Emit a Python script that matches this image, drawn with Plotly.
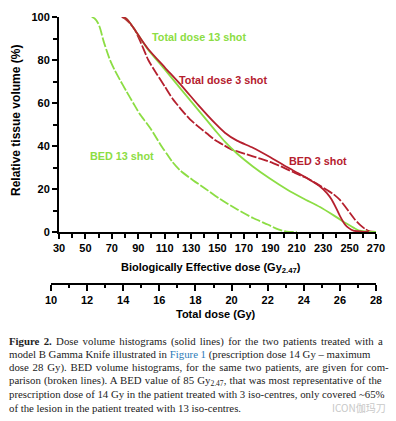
import plotly.graph_objects as go

# ---- data ----
td13_x = [14.0, 14.2, 14.4, 14.65, 15.0, 15.39, 16.31, 17.24, 18.16, 19.08, 19.63, 20.3, 21.18, 22.1, 23.07, 24.0, 24.9, 25.7, 26.39, 26.8, 27.1, 27.6, 28.0]
td13_y = [100, 99, 97, 94, 89.5, 84.7, 75.5, 66, 56.7, 47.4, 42, 36.5, 30.5, 25, 19.8, 15.5, 11.6, 7.5, 3.8, 1.8, 0.6, 0.1, 0]

td3_x = [14.0, 14.2, 14.4, 14.65, 15.0, 15.39, 16.31, 17.24, 18.16, 19.08, 19.63, 20.3, 21.18, 22.1, 23.07, 23.7, 24.34, 24.85, 25.28, 25.55, 25.8, 26.0, 26.28, 26.5, 26.75, 27.2, 27.6]
td3_y = [100, 99, 97, 94, 89.5, 85, 76.5, 68, 59, 50.6, 46.2, 42.5, 39.2, 35, 30.2, 27.3, 24.2, 21.5, 18.1, 15, 11, 7.5, 3.5, 1.8, 0.6, 0.2, 0]

bed3_x = [77.5, 80, 83, 87.5, 92, 97.6, 104, 110.2, 116, 122.9, 129, 135.5, 142, 148.1, 155, 161.7, 169, 176.8, 183, 189.7, 198, 207.1, 212, 217.7, 225, 232.9, 238, 242.7, 246.5, 250.3, 254, 257.9, 262, 265.4, 270]
bed3_y = [100, 99.2, 97.5, 94, 88, 80, 73.5, 67.6, 62, 56.7, 52.5, 49, 45.8, 42.8, 40.3, 38.1, 36.7, 35.2, 34, 32.6, 30.5, 27.9, 26.5, 25.1, 22.5, 19.5, 17.5, 14.9, 12, 8.8, 5.8, 3.3, 1.3, 0.3, 0]

bed13_x = [54.8, 57, 59.7, 61.5, 63.5, 66, 68.6, 72, 76.2, 81, 86.2, 91, 96.4, 100, 104, 108, 112, 116, 122, 131.7, 140, 151.9, 165, 176.9, 188, 196, 202.4, 210]
bed13_y = [100, 99.3, 97, 94, 89.3, 84.5, 80, 75.5, 70.7, 65.5, 60, 55, 50.6, 47.5, 43.5, 39.5, 36, 32.5, 28.5, 24, 20.5, 15.3, 10.5, 6.5, 3.5, 1.2, 0.2, 0]

bed_ticks = [30, 50, 70, 90, 110, 130, 150, 170, 190, 210, 230, 250, 270]
td_ticks = [10, 12, 14, 16, 18, 20, 22, 24, 26, 28]
vol_ticks = [0, 20, 40, 60, 80, 100]

caption_lines = [
    "<b>Figure 2.</b> Dose volume histograms (solid lines) for the two patients treated with a",
    "model B Gamma Knife illustrated in <span style='color:#2a7ab8'>Figure 1</span> (prescription dose 14 Gy \u2013 maximum",
    "dose 28 Gy). BED volume histograms, for the same two patients, are given for com-",
    "parison (broken lines). A BED value of 85 Gy<sub>2.47</sub>, that was most representative of the",
    "prescription dose of 14 Gy in the patient treated with 3 iso-centres, only covered ~65%",
    "of the lesion in the patient treated with 13 iso-centres.",
]
caption_word_spacing = [1.6, 0, 1.1, 0.4, 0, 0]

GREEN = "#8CDD44"
RED = "#B5202E"
W, H = 396, 421


def px(x):
    return x / W


def py(y):
    return 1 - y / H


fig = go.Figure()
fig.add_trace(go.Scatter(x=bed13_x, y=bed13_y, xaxis="x", yaxis="y", mode="lines",
                         line=dict(color=GREEN, width=1.8, dash="10px,2px", shape="spline", smoothing=0.6)))
fig.add_trace(go.Scatter(x=bed3_x, y=bed3_y, xaxis="x", yaxis="y", mode="lines",
                         line=dict(color=RED, width=1.8, dash="10px,2px", shape="spline", smoothing=0.6)))
fig.add_trace(go.Scatter(x=td13_x, y=td13_y, xaxis="x2", yaxis="y2", mode="lines",
                         line=dict(color=GREEN, width=1.8, shape="spline", smoothing=0.6)))
fig.add_trace(go.Scatter(x=td3_x, y=td3_y, xaxis="x2", yaxis="y2", mode="lines",
                         line=dict(color=RED, width=1.8, shape="spline", smoothing=0.6)))

tickfont = dict(family="Liberation Sans, Arial", size=11, color="black", weight="bold")
ydom = [py(232), py(17)]

fig.update_layout(
    template="none",
    width=W, height=H, margin=dict(l=0, r=0, t=0, b=0, pad=0, autoexpand=False),
    paper_bgcolor="white", plot_bgcolor="rgba(0,0,0,0)", showlegend=False,
    xaxis=dict(domain=[px(59), px(376)], range=[30, 270], anchor="y", automargin=False,
               tickmode="array", tickvals=bed_ticks, ticktext=[str(t) for t in bed_ticks],
               ticks="outside", ticklen=5, tickwidth=1.5, tickcolor="black",
               minor=dict(dtick=10, tick0=30, ticks="outside", ticklen=4, tickwidth=1.5, tickcolor="black", showgrid=False),
               showline=True, linecolor="black", linewidth=2, showgrid=False, zeroline=False,
               tickfont=tickfont),
    xaxis2=dict(domain=[px(51), px(376)], range=[10, 28], anchor="free", position=py(284), automargin=False,
                tickmode="array", tickvals=td_ticks, ticktext=[str(t) for t in td_ticks],
                ticks="outside", ticklen=6, tickwidth=1.5, tickcolor="black",
                minor=dict(dtick=1, tick0=10, ticks="outside", ticklen=3, tickwidth=1.5, tickcolor="black", showgrid=False),
                showline=True, linecolor="black", linewidth=2, showgrid=False, zeroline=False,
                tickfont=tickfont),
    yaxis=dict(domain=ydom, range=[0, 100], anchor="x", automargin=False,
               tickmode="array", tickvals=vol_ticks, ticktext=[str(t) for t in vol_ticks],
               ticks="outside", ticklen=5, tickwidth=1.5, tickcolor="black",
               minor=dict(dtick=10, tick0=0, ticks="outside", ticklen=4, tickwidth=1.5, tickcolor="black", showgrid=False),
               showline=True, linecolor="black", linewidth=2, showgrid=False, zeroline=False,
               tickfont=tickfont),
    yaxis2=dict(domain=ydom, range=[0, 100], anchor="x2", visible=False, automargin=False,
                showgrid=False, zeroline=False),
)

ann = []
ann.append(dict(x=px(16), y=py(121), text="Relative tissue volume (%)", textangle=-90,
                font=dict(family="Liberation Sans, Arial", size=12, color="black", weight="bold")))
ann.append(dict(x=px(211), y=py(268), text="Biologically Effective dose (Gy<sub>2.47</sub>)",
                font=dict(family="Liberation Sans, Arial", size=11, color="black", weight="bold")))
ann.append(dict(x=px(216), y=py(314), text="Total dose (Gy)",
                font=dict(family="Liberation Sans, Arial", size=11, color="black", weight="bold")))
lab_font = dict(family="Liberation Sans, Arial", size=10.8, weight="bold")
ann.append(dict(x=px(199), y=py(37), text="Total dose 13 shot", font=dict(lab_font, color=GREEN)))
ann.append(dict(x=px(223), y=py(80), text="Total dose 3 shot", font=dict(lab_font, color=RED)))
ann.append(dict(x=px(122), y=py(156), text="BED 13 shot", font=dict(lab_font, color=GREEN)))
ann.append(dict(x=px(318), y=py(161), text="BED 3 shot", font=dict(lab_font, color=RED)))

cap_y = [341, 354.3, 367.7, 381, 394.3, 407.7]
for line, yy, ws in zip(caption_lines, cap_y, caption_word_spacing):
    txt = line if ws == 0 else "<span style='word-spacing:%.1fpx'>%s</span>" % (ws, line)
    ann.append(dict(x=px(7), y=py(yy), text=txt, xanchor="left",
                    font=dict(family="Liberation Serif", size=10.8, color="#222")))
ann.append(dict(x=px(388), y=py(407), text="ICON伽玛刀", xanchor="right",
                font=dict(family="Noto Sans CJK SC", size=10, color="#c8c8c8")))

for a in ann:
    a.setdefault("xref", "paper")
    a.setdefault("yref", "paper")
    a.setdefault("showarrow", False)
    a.setdefault("xanchor", "center")
    a.setdefault("yanchor", "middle")
fig.update_layout(annotations=ann)

fig.write_html("out.html", config={"displayModeBar": False},
               post_script="document.body.style.margin='0';document.body.style.padding='0';")
